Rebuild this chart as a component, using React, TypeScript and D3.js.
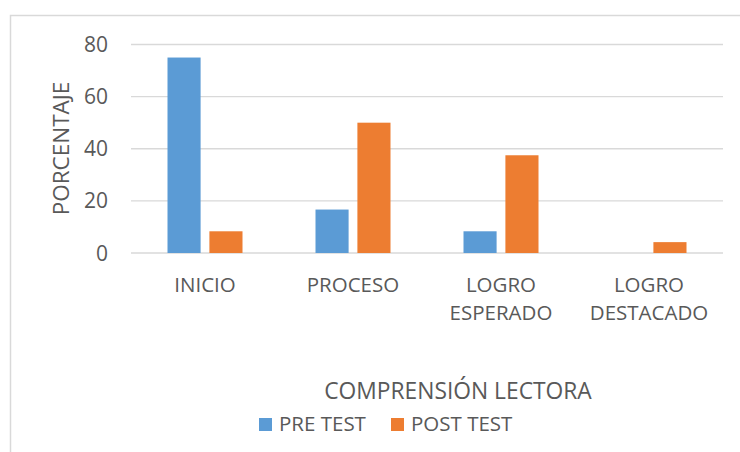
import * as d3 from "d3";

const categories = [["INICIO"], ["PROCESO"], ["LOGRO", "ESPERADO"], ["LOGRO", "DESTACADO"]];
const seriesNames = ["PRE TEST", "POST TEST"];
const preTest = [75, 16.67, 8.33, 0];
const postTest = [8.33, 50, 37.5, 4.17];
const yTicks = [0, 20, 40, 60, 80];
const colors = ["#5B9BD5", "#ED7D31"];

const W = 740, H = 452;
const FONT = "'Open Sans', sans-serif";
const TXT = "#595959";

const App = () => {
  const keys = categories.map(c => c.join(" "));
  const x = d3.scaleBand().domain(keys).range([131, 723]).padding(0);
  const y = d3.scaleLinear().domain([0, 80]).range([253, 44.5]);
  const inner = d3.scaleBand().domain(seriesNames).range([-37.5, 37.5]).paddingInner(0.21);
  const values = [preTest, postTest];

  return (
    <svg width={W} height={H} style={{ position: "absolute", left: 0, top: 0 }} fontFamily={FONT}>
      <rect x={0} y={0} width={W} height={H} fill="#fff" />
      <rect x={10.5} y={15.5} width={W + 10} height={H + 10} fill="none" stroke="#D9D9D9" strokeWidth={1.5} />

      {/* gridlines */}
      {yTicks.map(t => (
        <line key={t} x1={131} x2={723} y1={y(t)} y2={y(t)} stroke="#D9D9D9" strokeWidth={1.3} />
      ))}

      {/* y tick labels */}
      {yTicks.map(t => (
        <text key={"l" + t} x={108} y={y(t)} dy="0.36em" textAnchor="end" fontSize={21} fill={TXT}>{t}</text>
      ))}

      {/* y axis title */}
      <text transform="translate(69,148.5) rotate(-90)" textAnchor="middle" fontSize={22.5} fill={TXT}>PORCENTAJE</text>

      {/* bars */}
      {keys.map((k, i) => seriesNames.map((s, j) => {
        const v = values[j][i];
        const cx = (x(k) as number) + x.bandwidth() / 2;
        return (
          <rect key={k + s} x={cx + (inner(s) as number)} y={y(v)} width={inner.bandwidth()}
            height={y(0) - y(v)} fill={colors[j]} />
        );
      }))}

      {/* category labels */}
      {categories.map((lines, i) => {
        const cx = (x(keys[i]) as number) + x.bandwidth() / 2;
        return lines.map((ln, li) => (
          <text key={keys[i] + li} x={cx} y={292 + li * 28} textAnchor="middle" fontSize={20.5} fill={TXT}>{ln}</text>
        ));
      })}

      {/* x axis title */}
      <text x={458} y={399} textAnchor="middle" fontSize={22.8} fill={TXT}>COMPRENSIÓN LECTORA</text>

      {/* legend */}
      {seriesNames.map((s, j) => {
        const lx = [259, 391][j];
        return (
          <g key={s}>
            <rect x={lx} y={418} width={13} height={13} fill={colors[j]} />
            <text x={lx + 20} y={431} fontSize={20.5} fill={TXT}>{s}</text>
          </g>
        );
      })}
    </svg>
  );
};

export default App;
